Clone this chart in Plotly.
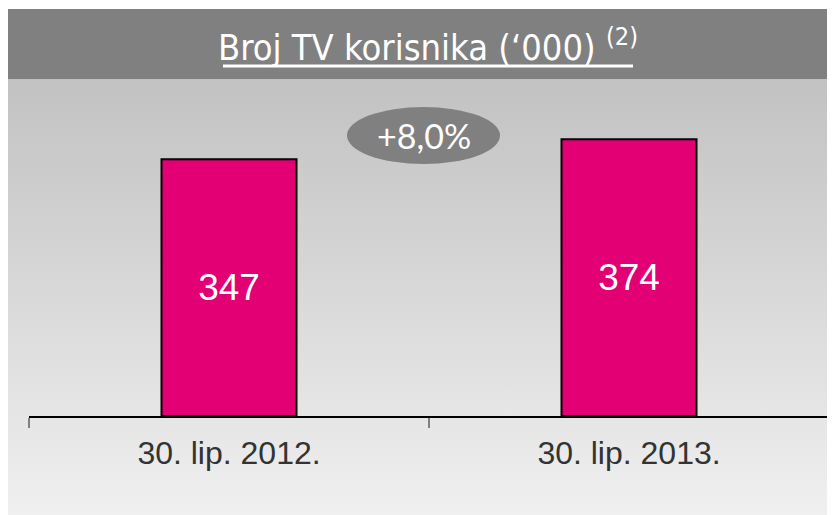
import base64
import plotly.graph_objects as go

# ---- data ----
categories = ["30. lip. 2012.", "30. lip. 2013."]
values = [347, 374]
growth_label = "+8,0%"
title_text = "Broj TV korisnika (‘000)"
title_note = "(2)"

# ---- layout geometry (page pixels) ----
W, H = 835, 515
OFF = 8                 # page body margin of the html page
L, R = 29, 829          # plot area left/right
T, B = 100, 416         # plot area top/bottom (B = axis line)
YMAX = 427


def px(x):
    return (x - L) / (R - L)


def py(y):
    return (B - y) / (B - T)


MAGENTA = "#E20074"
GREY = "#808080"

svg = (
    '<svg xmlns="http://www.w3.org/2000/svg" width="100" height="100" preserveAspectRatio="none">'
    '<defs><linearGradient id="g" x1="0" y1="0" x2="0" y2="1">'
    '<stop offset="0" stop-color="#C0C0C0"/><stop offset="1" stop-color="#F0F0F0"/>'
    '</linearGradient></defs><rect width="100" height="100" fill="url(#g)"/></svg>'
)
svg_uri = "data:image/svg+xml;base64," + base64.b64encode(svg.encode()).decode()

fig = go.Figure()
fig.add_trace(go.Bar(
    x=categories,
    y=values,
    width=0.3375,
    marker=dict(color=MAGENTA, line=dict(color="black", width=2)),
    text=values,
    texttemplate="%{text}",
    textposition="inside",
    insidetextanchor="middle",
    textangle=0,
    textfont=dict(family="Liberation Sans, Arial, sans-serif", size=37, color="white"),
    hoverinfo="skip",
))

fig.update_layout(
    width=W - OFF, height=H - OFF,
    margin=dict(l=L - OFF, r=W - R, t=T - OFF, b=H - B, pad=0),
    paper_bgcolor="white",
    plot_bgcolor="rgba(0,0,0,0)",
    showlegend=False,
    xaxis=dict(
        showline=True, linecolor="black", linewidth=2,
        ticks="outside", tickson="boundaries", ticklen=10,
        tickcolor=GREY, tickwidth=2, ticklabelstandoff=8,
        tickfont=dict(family="Liberation Sans, Arial, sans-serif", size=32, color="#333333"),
        showgrid=False, zeroline=False, fixedrange=True,
    ),
    yaxis=dict(visible=False, range=[0, YMAX], showgrid=False, zeroline=False, fixedrange=True),
    images=[dict(
        source=svg_uri, xref="paper", yref="paper",
        x=px(7), y=py(62), sizex=px(835) - px(7), sizey=py(62) - py(515),
        xanchor="left", yanchor="top", sizing="stretch", layer="below",
    )],
    shapes=[
        dict(type="rect", xref="paper", yref="paper",
             x0=px(8), x1=px(840), y0=py(79), y1=py(9),
             fillcolor=GREY, line=dict(width=0), layer="below"),
        dict(type="line", xref="paper", yref="paper",
             x0=px(223), x1=px(633), y0=py(66), y1=py(66),
             line=dict(color="white", width=3)),
        dict(type="circle", xref="paper", yref="paper",
             x0=px(347), x1=px(500), y0=py(164), y1=py(107),
             fillcolor=GREY, line=dict(width=0), layer="below"),
    ],
    annotations=[
        dict(text=f"{title_text} <sup>{title_note}</sup>", xref="paper", yref="paper",
             x=px(428), y=py(45), xanchor="center", yanchor="middle", showarrow=False,
             font=dict(family="Liberation Sans Narrow, DejaVu Sans Condensed, sans-serif",
                       size=36, color="white")),
        dict(text=growth_label, xref="paper", yref="paper",
             x=px(424), y=py(135), xanchor="center", yanchor="middle", showarrow=False,
             font=dict(family="Lato, Open Sans, sans-serif", size=34, color="white")),
    ],
)

fig.write_html("out.html")
